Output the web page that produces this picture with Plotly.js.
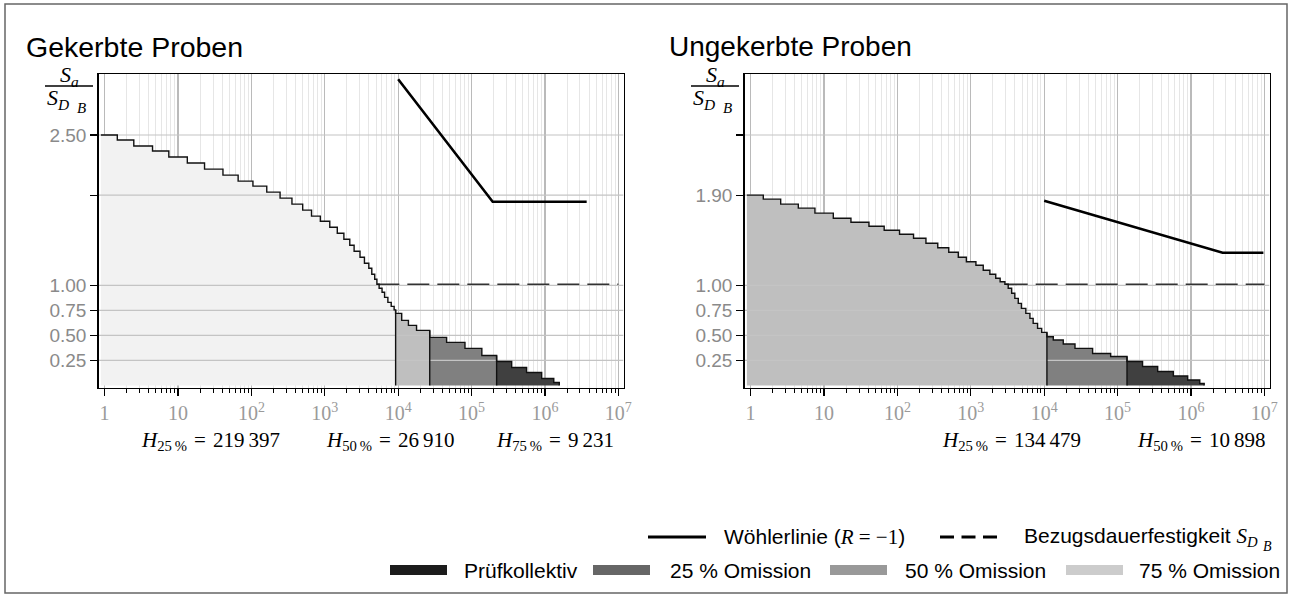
<!DOCTYPE html>
<html><head><meta charset="utf-8">
<script src="https://cdn.plot.ly/plotly-3.0.1.min.js"></script>
<style>html,body{margin:0;padding:0;background:#fff}#chart{width:1291px;height:597px}</style>
</head><body><div id="chart"></div>
<script>
const W = 1291, H = 597;

// ---- tick definitions ----
const decadeTicks = [1, 10, 100, 1e3, 1e4, 1e5, 1e6, 1e7];
const decadeLabels = ['1', '10', '10<sup>2</sup>', '10<sup>3</sup>', '10<sup>4</sup>', '10<sup>5</sup>', '10<sup>6</sup>', '10<sup>7</sup>'];
const yTicks = [0.25, 0.5, 0.75, 1.0, 1.9, 2.5];
const yLabelsLeft = ['0.25', '0.50', '0.75', '1.00', '', '2.50'];
const yLabelsRight = ['0.25', '0.50', '0.75', '1.00', '1.90', ''];

// ---- Gekerbte Proben (left) ----
const leftStart = 0.89;
const leftEnds = [1.49, 2.5, 4.5, 7.5, 13.4, 23, 41, 66, 105, 162,
  246, 357, 500, 660, 870, 1170, 1480, 1820, 2190, 2510,
  3020, 3470, 3980, 4370, 4790, 5130, 5500, 6030, 6530, 7240,
  8040, 8810, 9231, 11170, 13800, 17800, 26910, 45700, 81300, 138000,
  219397, 352000, 562000, 902000, 1318000, 1567000];
const leftLevels = [2.50, 2.45, 2.39, 2.34, 2.28, 2.22, 2.16, 2.10, 2.04, 1.99,
  1.93, 1.87, 1.81, 1.75, 1.69, 1.64, 1.58, 1.52, 1.46, 1.40,
  1.34, 1.28, 1.22, 1.17, 1.11, 1.06, 1.01, 0.97, 0.93, 0.88,
  0.83, 0.79, 0.755, 0.72, 0.65, 0.60, 0.55, 0.48, 0.43, 0.37,
  0.30, 0.24, 0.18, 0.13, 0.07, 0.03];
const leftOmissionH = [9231, 26910, 219397];          // H75, H50, H25
const leftOmissionNames = ['75 %', '50 %', '25 %'];
const leftWoehlerN = [1e4, 1.94e5, 3.7e6];
const leftWoehlerS = [3.056, 1.834, 1.834];
const leftRefN = [5200, 1e7];
const leftRefS = [1.01, 1.01];

// ---- Ungekerbte Proben (right) ----
const rightStart = 0.89;
const rightEnds = [1.49, 2.57, 4.47, 7.53, 13.4, 23.3, 41.0, 66.1, 107, 166,
  245, 355, 501, 676, 871, 1175, 1479, 1820, 2188, 2512,
  2917, 3236, 3606, 3981, 4436, 4898, 5623, 6397, 7079, 8128,
  9247, 10898, 13300, 18200, 26300, 45700, 80500, 134479, 219000, 352000,
  575000, 902000, 1318000, 1514000];
const rightLevels = [1.90, 1.86, 1.81, 1.77, 1.72, 1.67, 1.63, 1.59, 1.55, 1.51,
  1.47, 1.42, 1.375, 1.33, 1.28, 1.235, 1.20, 1.15, 1.11, 1.07,
  1.035, 1.01, 0.97, 0.92, 0.87, 0.82, 0.77, 0.72, 0.67, 0.62,
  0.57, 0.53, 0.487, 0.454, 0.414, 0.37, 0.32, 0.29, 0.24, 0.19,
  0.14, 0.095, 0.055, 0.02];
const rightOmissionH = [10898, 134479];               // H50, H25
const rightOmissionNames = ['50 %', '25 %'];
const rightWoehlerN = [1e4, 2.7e6, 9.7e6];
const rightWoehlerS = [1.845, 1.325, 1.325];
const rightRefN = [2990, 1e7];
const rightRefS = [1.01, 1.01];

// ---- colours ----
const leftFills = ['#f2f2f2', '#bfbfbf', '#808080', '#404040'];
const rightFills = ['#bfbfbf', '#808080', '#404040'];
const legendNames = ['Prüfkollektiv', '25 % Omission', '50 % Omission', '75 % Omission'];
const legendColors = ['#1c1c1c', '#666666', '#999999', '#cccccc'];

// ---- helpers ----
const X = px => px / W;
const Y = py => 1 - py / H;
const XR = [-0.083, 7.07];
const YR = [-0.025, 3.109];
const serif = 'Liberation Serif, DejaVu Serif, serif';
const sans = 'Liberation Sans, Arial, sans-serif';

function panelTraces(start, ends, levels, hs, fills, wN, wS, rN, rS, xa, ya) {
  const traces = [];
  const starts = [start].concat(ends.slice(0, -1));
  const bounds = [start].concat(hs, [ends[ends.length - 1]]);
  for (let r = 0; r < bounds.length - 1; r++) {
    const xs = [], ys = [];
    for (let i = 0; i < levels.length; i++) {
      if (starts[i] >= bounds[r] * 0.999 && ends[i] <= bounds[r + 1] * 1.001) {
        xs.push(starts[i]); ys.push(levels[i]);
      }
    }
    xs.push(bounds[r + 1]); ys.push(ys[ys.length - 1]);
    traces.push({x: xs, y: ys, xaxis: xa, yaxis: ya, type: 'scatter', mode: 'lines',
      line: {shape: 'hv', width: 0}, fill: 'tozeroy', fillcolor: fills[r], hoverinfo: 'skip'});
  }
  // horizontal grid lines drawn over the fills
  const gx = [], gy = [];
  const xmin = Math.pow(10, XR[0]), xmax = Math.pow(10, XR[1]);
  yTicks.forEach(t => { gx.push(xmin, xmax, null); gy.push(t, t, null); });
  traces.push({x: gx, y: gy, xaxis: xa, yaxis: ya, mode: 'lines', line: {color: '#c4c4c4', width: 1.2}, hoverinfo: 'skip'});
  // reference line
  traces.push({x: rN, y: rS, xaxis: xa, yaxis: ya, mode: 'lines',
    line: {color: '#333333', width: 1.6, dash: '22px,8px'}, hoverinfo: 'skip'});
  // stair line
  const sx = starts.concat([ends[ends.length - 1], ends[ends.length - 1]]);
  const sy = levels.concat([levels[levels.length - 1], 0]);
  traces.push({x: sx, y: sy, xaxis: xa, yaxis: ya, mode: 'lines',
    line: {shape: 'hv', color: '#111', width: 1.4}, hoverinfo: 'skip'});
  // boundary verticals
  hs.forEach(h => {
    const idx = ends.indexOf(h);
    traces.push({x: [h, h], y: [0, levels[idx]], xaxis: xa, yaxis: ya, mode: 'lines',
      line: {color: '#111', width: 1.4}, hoverinfo: 'skip'});
  });
  // Wöhler line
  traces.push({x: wN, y: wS, xaxis: xa, yaxis: ya, mode: 'lines',
    line: {color: '#000', width: 2.6}, hoverinfo: 'skip'});
  return traces;
}

const data = [].concat(
  panelTraces(leftStart, leftEnds, leftLevels, leftOmissionH, leftFills, leftWoehlerN, leftWoehlerS, leftRefN, leftRefS, 'x', 'y'),
  panelTraces(rightStart, rightEnds, rightLevels, rightOmissionH, rightFills, rightWoehlerN, rightWoehlerS, rightRefN, rightRefS, 'x2', 'y2')
);

const minorVals = [];
for (let d = 0; d < 7; d++) for (let k = 2; k <= 9; k++) minorVals.push(k * Math.pow(10, d));

function xAxis(domain, anchor) {
  return {
    type: 'log', range: XR, domain: domain, anchor: anchor,
    tickmode: 'array', tickvals: decadeTicks, ticktext: decadeLabels,
    tickfont: {family: serif, size: 20, color: '#9a9a9a'},
    ticks: 'outside', ticklen: 7, tickcolor: '#000', tickwidth: 1.2,
    showline: true, linecolor: '#000', linewidth: 1.3, mirror: true,
    showgrid: true, gridcolor: '#bababa', gridwidth: 1.1, zeroline: false,
    minor: {tickmode: 'array', tickvals: minorVals, ticks: 'outside', ticklen: 4, tickcolor: '#000', tickwidth: 1,
      showgrid: true, gridcolor: '#e6e6e6', gridwidth: 1},
    fixedrange: true
  };
}
function yAxis(domain, anchor, labels) {
  return {
    range: YR, domain: domain, anchor: anchor,
    tickmode: 'array', tickvals: yTicks, ticktext: labels,
    tickfont: {family: sans, size: 19, color: '#8a8a8a'},
    ticks: 'outside', ticklen: 7, tickcolor: '#000', tickwidth: 1.2,
    showline: true, linecolor: '#000', linewidth: 1.3, mirror: true,
    showgrid: false, zeroline: false, fixedrange: true
  };
}

const yDom = [Y(388), Y(74)];
const annotations = [];
const shapes = [];
function ann(text, px, py, opts) {
  annotations.push(Object.assign({text: text, x: X(px), y: Y(py), xref: 'paper', yref: 'paper',
    showarrow: false, xanchor: 'left', yanchor: 'middle',
    font: {family: sans, size: 21, color: '#000'}}, opts || {}));
}

// panel titles
ann('Gekerbte Proben', 24, 47, {font: {family: sans, size: 28.5, color: '#000'}});
ann('Ungekerbte Proben', 667, 47, {font: {family: sans, size: 28, color: '#000'}});

// y-axis fraction labels
[0, 646].forEach(off => {
  ann('<i>S</i><sub><i>a</i></sub>', 69 + off, 76, {xanchor: 'center', font: {family: serif, size: 22, color: '#000'}});
  ann('<i>S</i><sub><i>D</i></sub>', 45 + off, 99, {xanchor: 'left', font: {family: serif, size: 22, color: '#000'}});
  ann('<i>B</i>', 75 + off, 108, {xanchor: 'left', font: {family: serif, size: 15, color: '#000'}});
  shapes.push({type: 'line', xref: 'paper', yref: 'paper', x0: X(45 + off), x1: X(93 + off), y0: Y(86), y1: Y(86),
    line: {color: '#000', width: 1.3}});
});

// H annotations (centred)
const thin = '\u2009';
function fmt(n) { return String(n).replace(/\B(?=(\d{3})+(?!\d))/g, thin); }
function hText(name, h) {
  return '<i>H</i><sub>' + name.replace(' ', thin) + '</sub>\u2004=\u2004' + fmt(h);
}
const leftHCenter = [555, 390, 210];
leftOmissionH.forEach((h, i) => {
  ann(hText(leftOmissionNames[i], h), leftHCenter[i], 441, {xanchor: 'center', font: {family: serif, size: 21, color: '#000'}});
});
const rightHCenter = [1201, 1011];
rightOmissionH.forEach((h, i) => {
  ann(hText(rightOmissionNames[i], h), rightHCenter[i], 441, {xanchor: 'center', font: {family: serif, size: 21, color: '#000'}});
});

// legend row 1
shapes.push({type: 'line', xref: 'paper', yref: 'paper', x0: X(648), x1: X(706), y0: Y(537), y1: Y(537), line: {color: '#000', width: 3}});
ann('Wöhlerlinie (<span style="font-family:Liberation Serif"><i>R</i> = −1</span>)', 722, 537);
shapes.push({type: 'line', xref: 'paper', yref: 'paper', x0: X(940), x1: X(997), y0: Y(537), y1: Y(537), line: {color: '#000', width: 3, dash: '14px,7.5px'}});
ann('Bezugsdauerfestigkeit <span style="font-family:Liberation Serif"><i>S</i><sub><i>D</i></sub></span>', 1260, 537, {xanchor: 'right'});
ann('<i>B</i>', 1261, 546, {xanchor: 'left', font: {family: serif, size: 14, color: '#000'}});

// legend row 2
const swX = [390, 593, 830, 1066];
const txX = [462, 668, 903, 1137];
legendNames.forEach((n, i) => {
  shapes.push({type: 'rect', xref: 'paper', yref: 'paper', x0: X(swX[i]), x1: X(swX[i] + 57), y0: Y(575), y1: Y(565),
    fillcolor: legendColors[i], line: {width: 0}});
  ann(n, txX[i], 570);
});

// outer frame
shapes.push({type: 'rect', xref: 'paper', yref: 'paper', x0: X(5), x1: X(1287), y0: Y(593), y1: Y(4),
  line: {color: '#666', width: 1.5}});

const layout = {
  width: W, height: H, margin: {l: 0, r: 0, t: 0, b: 0},
  paper_bgcolor: '#fff', plot_bgcolor: '#fff', showlegend: false,
  xaxis: xAxis([X(98.5), X(623.5)], 'y'),
  yaxis: yAxis(yDom, 'x', yLabelsLeft),
  xaxis2: xAxis([X(744.5), X(1269.5)], 'y2'),
  yaxis2: yAxis(yDom, 'x2', yLabelsRight),
  annotations: annotations, shapes: shapes
};

Plotly.newPlot('chart', data, layout, {displayModeBar: false, staticPlot: true});
</script>
</body></html>
